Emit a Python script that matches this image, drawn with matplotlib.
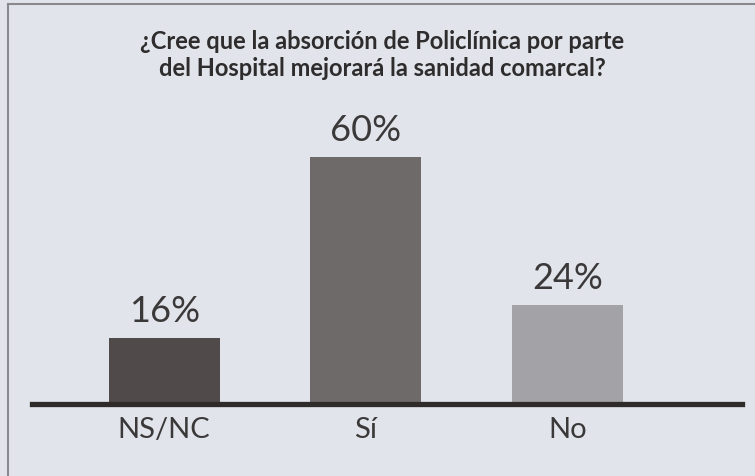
import matplotlib
matplotlib.use("Agg")
import matplotlib.pyplot as plt
from matplotlib.lines import Line2D

categories = ["NS/NC", "Sí", "No"]
values = [16, 60, 24]
value_labels = ["16%", "60%", "24%"]
bar_colors = ["#504b4a", "#6e6a6a", "#a3a2a6"]
title = "¿Cree que la absorción de Policlínica por parte\ndel Hospital mejorará la sanidad comarcal?"

FONT = ["Lato", "DejaVu Sans"]
plt.rcParams["font.family"] = FONT

W, H = 755, 476
bg = "#e1e4ea"
fig = plt.figure(figsize=(W / 100, H / 100), dpi=100, facecolor=bg)

# axes in pixel layout
x0, x1 = 32, 742
y_base, y_top = 403.5, 100
ax = fig.add_axes([x0 / W, 1 - y_base / H, (x1 - x0) / W, (y_base - y_top) / H])
ax.set_facecolor("none")

xs = list(range(len(categories)))
ax.bar(xs, values, width=0.55, color=bar_colors, zorder=2)
ax.set_xlim(-0.656, 2.866)
px_per_unit = (403.5 - 156.7) / 60.0
ax.set_ylim(0, (y_base - y_top) / px_per_unit)

for x, v, lab in zip(xs, values, value_labels):
    ax.annotate(lab, (x, v), xytext=(0, 7), textcoords="offset points",
                ha="center", va="bottom", fontsize=26, color="#3a3838")

ax.set_xticks(xs)
ax.set_xticklabels(categories, fontsize=21, color="#3a3838")
ax.tick_params(axis="x", length=0, pad=10)
ax.set_yticks([])
for s in ["left", "right", "top"]:
    ax.spines[s].set_visible(False)
ax.spines["bottom"].set_color("#2f2b2a")
ax.spines["bottom"].set_linewidth(3.8)
ax.spines["bottom"].set_zorder(3)

fig.text(0.506, 1 - 55 / H, title, ha="center", va="center", fontsize=17,
         fontweight="bold", color="#2e2c2c", linespacing=1.25)

# frame lines (top and left)
fig.add_artist(Line2D([8 / W, 1.0], [1 - 3.5 / H, 1 - 3.5 / H], color="#8a8a8e", lw=1.5))
fig.add_artist(Line2D([8 / W, 8 / W], [0, 1 - 3.5 / H], color="#8a8a8e", lw=1.5))

fig.savefig("out.png", dpi=100, facecolor=bg)
